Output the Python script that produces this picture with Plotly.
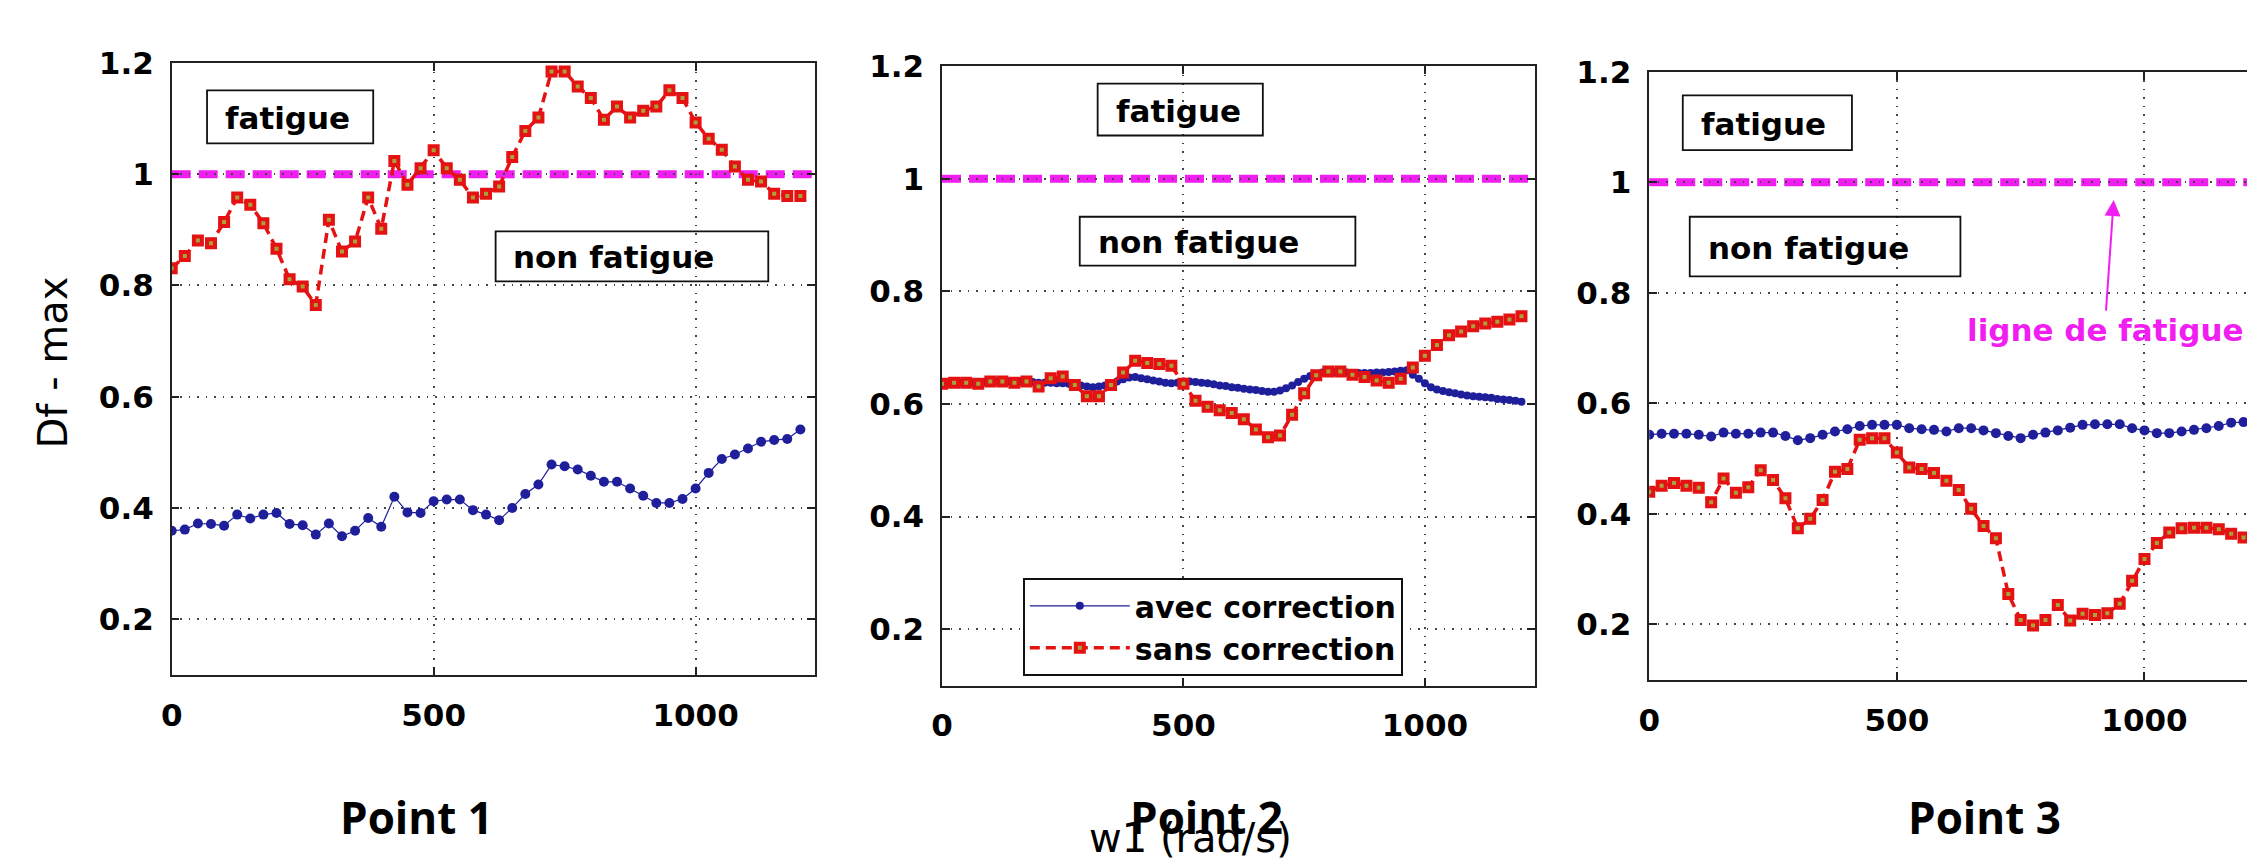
import plotly.graph_objects as go

W, H = 2247, 860

# ---------------- data ----------------
w_25 = [25 * i for i in range(49)]
w_12 = [12.5 * i for i in range(97)]

p1_avec = [0.359, 0.361, 0.372, 0.371, 0.368, 0.388, 0.381, 0.388, 0.391, 0.371,
           0.369, 0.352, 0.372, 0.349, 0.359, 0.382, 0.366, 0.420, 0.392, 0.391,
           0.412, 0.415, 0.415, 0.396, 0.388, 0.378, 0.400, 0.425, 0.442, 0.478,
           0.475, 0.469, 0.458, 0.447, 0.447, 0.435, 0.422, 0.409, 0.409, 0.416,
           0.435, 0.463, 0.488, 0.496, 0.507, 0.519, 0.522, 0.524, 0.541]
p1_sans = [0.831, 0.853, 0.881, 0.876, 0.914, 0.958, 0.945, 0.912, 0.866, 0.811,
           0.798, 0.765, 0.918, 0.861, 0.879, 0.958, 0.902, 1.024, 0.981, 1.011,
           1.043, 1.011, 0.990, 0.958, 0.965, 0.978, 1.031, 1.078, 1.102, 1.185,
           1.185, 1.158, 1.137, 1.098, 1.122, 1.102, 1.114, 1.122, 1.151, 1.137,
           1.093, 1.064, 1.044, 1.014, 0.990, 0.987, 0.965, 0.961, 0.961]

p2_avec = [0.637, 0.637, 0.638, 0.638, 0.638, 0.638, 0.639, 0.639, 0.639, 0.640,
           0.640, 0.640, 0.640, 0.640, 0.640, 0.639, 0.638, 0.638, 0.638, 0.637,
           0.637, 0.636, 0.635,
           0.633, 0.631, 0.630, 0.631, 0.633, 0.636, 0.640, 0.644, 0.647, 0.648,
           0.646, 0.644, 0.642, 0.640, 0.638, 0.637, 0.638, 0.640, 0.640, 0.639,
           0.638, 0.637, 0.635, 0.633, 0.632, 0.630, 0.629, 0.627, 0.626, 0.625,
           0.623, 0.622, 0.622, 0.624, 0.628, 0.633, 0.639, 0.645, 0.650, 0.654,
           0.656, 0.657, 0.657, 0.656, 0.656, 0.655, 0.655, 0.655, 0.655, 0.656,
           0.656, 0.657, 0.658, 0.659, 0.660, 0.652, 0.645, 0.637, 0.630, 0.626,
           0.623, 0.621, 0.619, 0.617, 0.615, 0.614, 0.613, 0.612, 0.611, 0.609,
           0.608, 0.607, 0.606, 0.604]
p2_sans = [0.636, 0.638, 0.638, 0.636, 0.640, 0.640, 0.638, 0.640, 0.631, 0.646,
           0.649, 0.634, 0.614, 0.614, 0.634, 0.656, 0.677, 0.673, 0.671, 0.668,
           0.636, 0.606, 0.595, 0.589, 0.584, 0.573, 0.555, 0.541, 0.544, 0.581,
           0.619, 0.651, 0.658, 0.658, 0.652, 0.648, 0.642, 0.638, 0.645, 0.665,
           0.686, 0.705, 0.722, 0.729, 0.738, 0.743, 0.746, 0.750, 0.756]

p3_avec = [0.543, 0.545, 0.545, 0.545, 0.543, 0.540, 0.547, 0.545, 0.545, 0.547,
           0.547, 0.541, 0.533, 0.537, 0.543, 0.549, 0.553, 0.559, 0.561, 0.561,
           0.561, 0.555, 0.553, 0.552, 0.549,
           0.555, 0.555, 0.551, 0.546, 0.541, 0.537, 0.543, 0.547, 0.551, 0.556,
           0.561, 0.562, 0.562, 0.562, 0.555, 0.551, 0.546, 0.546, 0.549, 0.552,
           0.555, 0.559, 0.565, 0.566]
p3_sans = [0.440, 0.451, 0.456, 0.451, 0.447, 0.421, 0.464, 0.438, 0.448, 0.479,
           0.461, 0.428, 0.374, 0.391, 0.425, 0.476, 0.481, 0.534, 0.537, 0.537,
           0.511, 0.484, 0.481, 0.474, 0.460, 0.443, 0.409, 0.378, 0.356, 0.255,
           0.208, 0.198, 0.208, 0.235, 0.207, 0.219, 0.217, 0.220, 0.237, 0.279,
           0.318, 0.347, 0.366, 0.374, 0.375, 0.375, 0.372, 0.364, 0.357]

fatigue_level = 1.0
y_tickvals = [0.2, 0.4, 0.6, 0.8, 1.0, 1.2]
y_ticktext = ["0.2", "0.4", "0.6", "0.8", "1", "1.2"]
x_tickvals = [0, 500, 1000]
x_ticktext = ["0", "500", "1000"]
series_names = ["avec correction", "sans correction"]
panel_titles = ["Point 1", "Point 2", "Point 3"]

# ---------------- style ----------------
BLUE = "#1f1f9c"
RED = "#e41212"
FACE = "#a9a23c"
MAG = "#f01ef0"
TICKFONT = dict(family="DejaVu Sans", size=31, color="black", weight="bold")
BOXFONT = dict(family="DejaVu Sans", size=31, color="black", weight="bold")
CAPFONT = dict(family="Open Sans", size=44, color="black", weight="bold")


def px(x):
    return x / W


def py(y):
    return 1 - y / H


# panel geometry in pixels: (left, right, top, bottom, xmax, mirror_y)
panels = [
    (161.5, 808.0, 46.0, 670.8, 1228, True),
    (935.6, 1531.0, 49.3, 681.8, 1227, True),
    (1646.3, 2247.0, 55.0, 675.7, 1207, False),
]
data = [
    (w_25, p1_avec, w_25, p1_sans, 10),
    (w_12, p2_avec, w_25, p2_sans, 8),
    (w_25, p3_avec, w_25, p3_sans, 10),
]
caption_x = [407, 1201.7, 1983]

fig = go.Figure()
layout = dict(
    width=W, height=H, margin=dict(l=0, r=0, t=0, b=0),
    paper_bgcolor="white", plot_bgcolor="white",
    showlegend=True,
)
shapes = []
annotations = []

for i, ((l, r, t, b, xmax, mir), (xa, ya, xs, ys, bsize)) in enumerate(zip(panels, data)):
    n = "" if i == 0 else str(i + 1)
    xref, yref = "x" + n, "y" + n
    layout["xaxis" + n] = dict(
        domain=[px(l), px(r)], anchor=yref, range=[0, xmax],
        tickvals=x_tickvals, ticktext=x_ticktext, tickfont=TICKFONT,
        ticks="inside", ticklen=8, tickcolor="#222", tickwidth=1.5,
        showline=True, linecolor="#222", linewidth=1.5, mirror="ticks",
        showgrid=True, gridcolor="#444", gridwidth=1.5, griddash="1.5px,7px",
        zeroline=False, ticklabelstandoff=12, fixedrange=True,
    )
    layout["yaxis" + n] = dict(
        domain=[py(b), py(t)], anchor=xref, range=[0.1, 1.2],
        tickvals=y_tickvals, ticktext=y_ticktext, tickfont=TICKFONT,
        ticks="inside", ticklen=8, tickcolor="#222", tickwidth=1.5,
        showline=True, linecolor="#222", linewidth=1.5,
        mirror="ticks" if mir else False,
        showgrid=True, gridcolor="#444", gridwidth=1.5, griddash="1.5px,7px",
        zeroline=False, ticklabelstandoff=10, fixedrange=True,
    )
    fig.add_trace(go.Scatter(
        x=xa, y=ya, xaxis=xref, yaxis=yref, mode="lines+markers",
        name=series_names[0], showlegend=(i == 1), legendrank=1,
        line=dict(color=BLUE, width=1.2),
        marker=dict(symbol="circle", size=bsize, color=BLUE, line=dict(width=0)),
    ))
    fig.add_trace(go.Scatter(
        x=xs, y=ys, xaxis=xref, yaxis=yref, mode="lines+markers",
        name=series_names[1], showlegend=(i == 1), legendrank=2,
        line=dict(color=RED, width=3.5, dash="10px,6px"),
        marker=dict(symbol="square", size=8, color=FACE, line=dict(color=RED, width=4)),
    ))
    # fatigue threshold line
    shapes.append(dict(
        type="line", xref=xref + " domain", yref=yref, x0=0, x1=1,
        y0=fatigue_level, y1=fatigue_level, layer="below",
        line=dict(color=MAG, width=8, dash="19px,8px"),
    ))
    if i != 1:
        annotations.append(dict(
            xref="paper", yref="paper", x=px(caption_x[i]), y=py(816.5),
            text=panel_titles[i], showarrow=False, xanchor="center", yanchor="middle",
            font=CAPFONT,
        ))

# text boxes: (rect l, r, t, b, text x, label)
boxes = [
    (197, 364, 74, 128, 213, "fatigue"),
    (487, 761, 218, 269, 502, "non fatigue"),
    (1092, 1258, 67, 120, 1108, "fatigue"),
    (1074, 1351, 203, 253, 1090, "non fatigue"),
    (1680, 1850, 79, 135, 1696, "fatigue"),
    (1687, 1959, 203, 264, 1703, "non fatigue"),
]
for (l, r, t, b, tx, lab) in boxes:
    shapes.append(dict(type="rect", xref="paper", yref="paper",
                       x0=px(l), x1=px(r), y0=py(b), y1=py(t),
                       line=dict(color="#111", width=1.8)))
    annotations.append(dict(xref="paper", yref="paper", x=px(tx), y=py((t + b) / 2 + 1),
                            text=lab, showarrow=False, xanchor="left", yanchor="middle",
                            font=BOXFONT))

# ligne de fatigue with arrow
annotations.append(dict(
    xref="paper", yref="paper", x=px(2113), y=py(186),
    ax=-9, ay=130,
    text="ligne de fatigue", showarrow=True, arrowhead=2, arrowsize=1.6,
    arrowwidth=2, arrowcolor=MAG, standoff=0,
    font=dict(family="DejaVu Sans", size=31, color=MAG, weight="bold"),
))

# axis titles
annotations.append(dict(
    xref="paper", yref="paper", x=px(1185), y=py(838), text="w1 (rad/s)",
    showarrow=False, xanchor="center", yanchor="middle",
    font=dict(family="DejaVu Sans", size=40, color="black"),
))
annotations.append(dict(
    xref="paper", yref="paper", x=px(42), y=py(352), text="Df - max",
    showarrow=False, xanchor="center", yanchor="middle", textangle=-90,
    font=dict(family="DejaVu Sans", size=40, color="black"),
))
# Point 2 caption drawn last so it sits on top of the x title
annotations.append(dict(
    xref="paper", yref="paper", x=px(caption_x[1]), y=py(816.5),
    text=panel_titles[1], showarrow=False, xanchor="center", yanchor="middle",
    font=CAPFONT,
))

layout["shapes"] = shapes
layout["annotations"] = annotations
layout["legend"] = dict(
    x=px(1017), y=py(572), xanchor="left", yanchor="top",
    bgcolor="white", bordercolor="#111", borderwidth=1.8,
    font=dict(family="DejaVu Sans", size=30, color="black", weight="bold"),
    itemwidth=100, tracegroupgap=0, traceorder="normal",
)
fig.update_layout(**layout)
fig.write_html("out.html")
